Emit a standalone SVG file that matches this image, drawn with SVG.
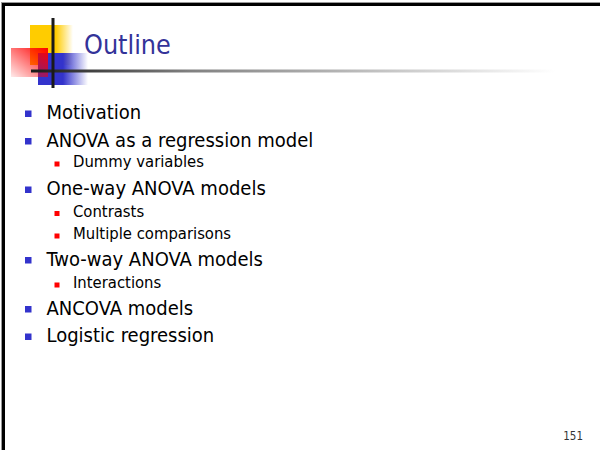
<svg xmlns="http://www.w3.org/2000/svg" width="600" height="450" viewBox="0 0 600 450">
  <defs>
    <linearGradient id="fadeYellow" x1="0" y1="0" x2="1" y2="0">
      <stop offset="0" stop-color="#FFCC00"/>
      <stop offset="0.6" stop-color="#FFCC00"/>
      <stop offset="1" stop-color="#FFCC00" stop-opacity="0"/>
    </linearGradient>
    <linearGradient id="fadeBlue" x1="0" y1="0" x2="1" y2="0">
      <stop offset="0" stop-color="#3333CC"/>
      <stop offset="0.5" stop-color="#3333CC"/>
      <stop offset="1" stop-color="#3333CC" stop-opacity="0"/>
    </linearGradient>
    <linearGradient id="fadeRed" x1="1" y1="0" x2="0" y2="1">
      <stop offset="0" stop-color="#FF0000"/>
      <stop offset="1" stop-color="#FF0000" stop-opacity="0.08"/>
    </linearGradient>
    <linearGradient id="rule" gradientUnits="userSpaceOnUse" x1="31" y1="0" x2="555" y2="0">
      <stop offset="0" stop-color="#1a1a1a"/>
      <stop offset="0.3" stop-color="#808080"/>
      <stop offset="1" stop-color="#ffffff"/>
    </linearGradient>
    <style>
      .l1 { font-family: "DejaVu Sans", "Liberation Sans", sans-serif; font-stretch: condensed; font-size: 20px; fill: #000; }
      .l2 { font-family: "DejaVu Sans", "Liberation Sans", sans-serif; font-stretch: condensed; font-size: 16.5px; fill: #000; }
      .b1 { fill: #3333CC; }
      .b2 { fill: #FF0000; }
    </style>
  </defs>

  <rect width="600" height="450" fill="#ffffff"/>

  <!-- slide frame (left and top edges) -->
  <g id="frame">
    <line x1="1.5" y1="2" x2="1.5" y2="450" stroke="#999" stroke-width="1"/>
    <line x1="2" y1="2.5" x2="600" y2="2.5" stroke="#999" stroke-width="1"/>
    <line x1="3.5" y1="3" x2="3.5" y2="450" stroke="#000" stroke-width="3"/>
    <line x1="2" y1="4.5" x2="600" y2="4.5" stroke="#000" stroke-width="3"/>
  </g>

  <!-- title decoration -->
  <g id="logo">
    <rect x="30" y="25" width="43" height="40" fill="url(#fadeYellow)"/>
    <rect x="38" y="53" width="50" height="32" fill="url(#fadeBlue)"/>
    <rect x="11" y="48" width="37" height="29" fill="url(#fadeRed)"/>
    <rect x="31" y="69.5" width="524" height="3" fill="url(#rule)"/>
    <rect x="51.5" y="18" width="3" height="70" fill="#1a1a1a"/>
  </g>

  <g id="title">
    <text x="84" y="54" font-family="DejaVu Sans, Liberation Sans, sans-serif" font-stretch="condensed" font-size="26.7" fill="#333399">Outline</text>
  </g>

  <g id="bullets">
    <g id="item-motivation">
      <rect class="b1" x="25" y="110.5" width="6.5" height="6.5"/>
      <text class="l1" x="46.5" y="119">Motivation</text>
    </g>
    <g id="item-anova-regression">
      <rect class="b1" x="25" y="138" width="6.5" height="6.5"/>
      <text class="l1" x="46.5" y="146.5">ANOVA as a regression model</text>
    </g>
    <g id="item-dummy">
      <rect class="b2" x="54.5" y="161.5" width="5" height="5"/>
      <text class="l2" x="73" y="167">Dummy variables</text>
    </g>
    <g id="item-oneway">
      <rect class="b1" x="25" y="186.5" width="6.5" height="6.5"/>
      <text class="l1" x="46.5" y="195">One-way ANOVA models</text>
    </g>
    <g id="item-contrasts">
      <rect class="b2" x="54.5" y="211" width="5" height="5"/>
      <text class="l2" x="73" y="216.5">Contrasts</text>
    </g>
    <g id="item-multiple">
      <rect class="b2" x="54.5" y="233.5" width="5" height="5"/>
      <text class="l2" x="73" y="239">Multiple comparisons</text>
    </g>
    <g id="item-twoway">
      <rect class="b1" x="25" y="257" width="6.5" height="6.5"/>
      <text class="l1" x="46.5" y="265.5">Two-way ANOVA models</text>
    </g>
    <g id="item-interactions">
      <rect class="b2" x="54.5" y="282.5" width="5" height="5"/>
      <text class="l2" x="73" y="288">Interactions</text>
    </g>
    <g id="item-ancova">
      <rect class="b1" x="25" y="306" width="6.5" height="6.5"/>
      <text class="l1" x="46.5" y="314.5">ANCOVA models</text>
    </g>
    <g id="item-logistic">
      <rect class="b1" x="25" y="333.5" width="6.5" height="6.5"/>
      <text class="l1" x="46.5" y="342">Logistic regression</text>
    </g>
  </g>

  <g id="page-number">
    <text x="583" y="440" text-anchor="end" font-family="DejaVu Sans, Liberation Sans, sans-serif" font-stretch="condensed" font-size="11.5" fill="#333">151</text>
  </g>
</svg>
